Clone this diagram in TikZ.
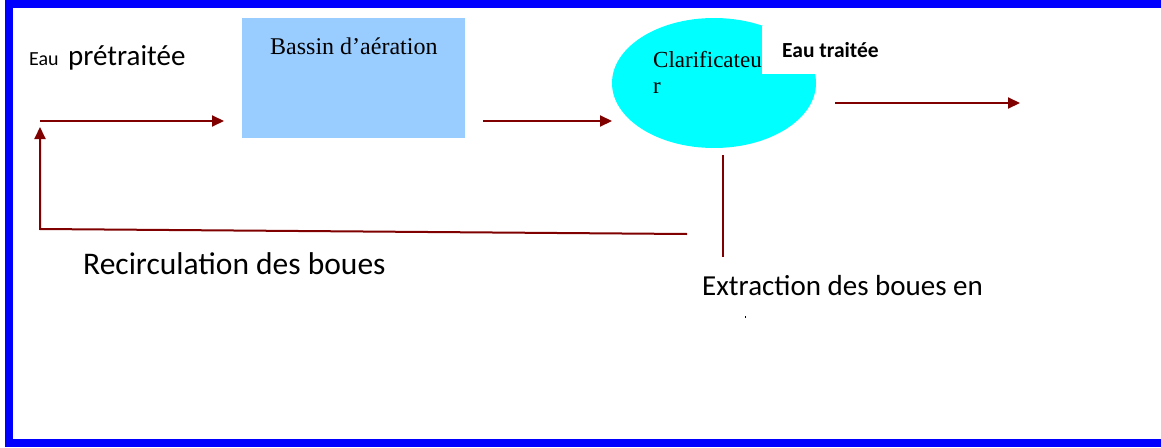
\documentclass[tikz,border=0pt]{standalone}
\usepackage{fontspec}
\setmainfont{Liberation Serif}
\newfontfamily\calfont{Carlito}
\usetikzlibrary{arrows.meta,shapes.geometric}
\definecolor{frameblue}{RGB}{0,0,255}
\definecolor{arrowred}{RGB}{128,0,0}
\definecolor{bassinblue}{RGB}{153,204,255}
\definecolor{clarcyan}{RGB}{0,255,255}
\tikzset{
  flow/.style={draw=arrowred, line width=2pt, -{Triangle[length=12pt,width=11pt]}},
  plain/.style={draw=arrowred, line width=2pt},
  lbl/.style={inner sep=0pt, anchor=base west, font=\calfont\fontsize{31.5}{36}\selectfont},
  serif/.style={inner sep=0pt, anchor=base west, font=\fontsize{23}{26}\selectfont},
}
\begin{document}
\begin{tikzpicture}[x=1pt,y=-1pt]
\useasboundingbox (0,0) rectangle (1161,447);
\fill[white] (0,0) rectangle (1161,447);
% frame
\draw[frameblue, line width=8pt] (8.5,3.5) rectangle (1180,443);
% bassin
\node[fill=bassinblue, minimum width=223pt, minimum height=120pt, inner sep=0pt, anchor=north west] (bassin) at (242,18) {};
\node[serif, font=\fontsize{24}{28}\selectfont] (bassintxt) at (270,54) {Bassin d’aération};
% clarificateur
\node[fill=clarcyan, ellipse, minimum width=204pt, minimum height=130pt, inner sep=0pt] (clarif) at (714,83) {};
\node[serif] (clartxt1) at (653,67) {Clarificateu};
\node[serif] (clartxt2) at (653,93) {r};
\fill[white] (762,26) rectangle (882,74);
\node[inner sep=0pt, anchor=base west, font=\calfont\bfseries\fontsize{21.5}{24}\selectfont] (eautraitee) at (782,57) {Eau traitée};
% inlet label
\node[inner sep=0pt, anchor=base west, font=\calfont\fontsize{20}{24}\selectfont] (eau) at (29,65) {Eau};
\node[inner sep=0pt, anchor=base west, font=\calfont\fontsize{29}{34}\selectfont] (pretraitee) at (68,65) {prétraitée};
% coordinates
\coordinate (in) at (40,121);
\coordinate (inend) at (224,121);
\coordinate (mid) at (483,121);
\coordinate (midend) at (612,121);
\coordinate (out) at (835,103);
\coordinate (outend) at (1020,103);
\coordinate (exttop) at (723,155);
\coordinate (extbot) at (723,257);
\coordinate (recstart) at (687,234);
\coordinate (reccorner) at (40,229);
\coordinate (rectip) at (40,127);
% connectors
\draw[flow] (in) -- (inend);
\draw[flow] (mid) -- (midend);
\draw[flow] (out) -- (outend);
\draw[plain] (exttop) -- (extbot);
\draw[flow] (recstart) -- (reccorner) -- (rectip);
% labels
\node[lbl] (recirc) at (83,274) {Recirculation des boues};
\node[lbl, font=\calfont\fontsize{29}{34}\selectfont] (extract) at (702,295) {Extraction des boues en};
\fill[black] (744.5,316) rectangle (745.5,317.5);
\end{tikzpicture}
\end{document}
